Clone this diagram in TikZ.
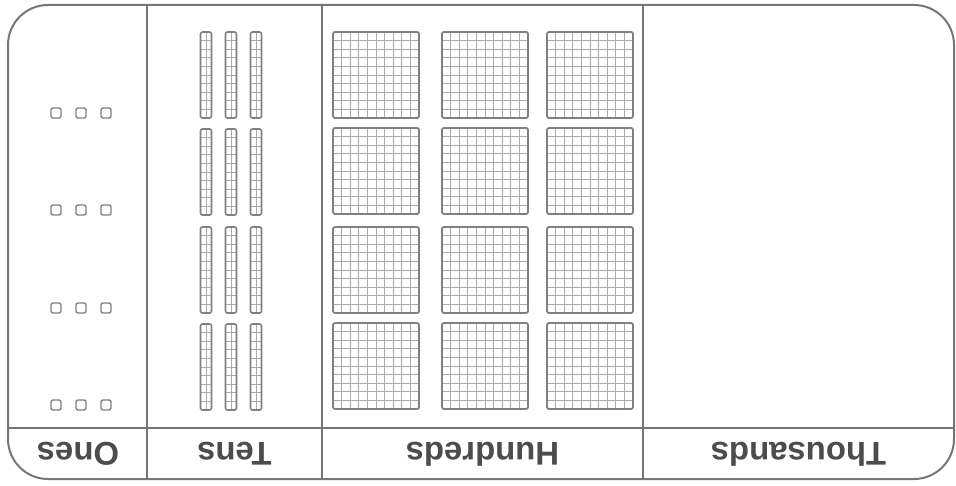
\documentclass[tikz,border=0pt]{standalone}
\usepackage{fontspec}
\setmainfont{Liberation Sans}
\definecolor{linec}{HTML}{767676}
\definecolor{textc}{HTML}{4C4C4C}
\definecolor{blockc}{HTML}{808080}
\definecolor{gridc}{HTML}{AAAAAA}
\tikzset{
  frameline/.style={draw=linec, line width=2bp},
  label/.style={rotate=180, text=textc, font=\fontsize{33}{36}\selectfont\bfseries, inner sep=0pt},
  unitcube/.style={draw=blockc, line width=1.4bp, rounded corners=2bp, fill=white},
  rodbox/.style={draw=blockc, line width=1.6bp, rounded corners=2bp},
  flatbox/.style={draw=blockc, line width=1.8bp, rounded corners=2bp},
  gridline/.style={draw=gridc, line width=0.9bp}
}
\begin{document}
\begin{tikzpicture}[x=1bp,y=-1bp]
\useasboundingbox (0,0) rectangle (956,486);
% frame
\draw[frameline, rounded corners=40bp] (8,5) rectangle (954,479);
\coordinate (d1t) at (147,5); \coordinate (d1b) at (147,479);
\coordinate (d2t) at (322,5); \coordinate (d2b) at (322,479);
\coordinate (d3t) at (643,5); \coordinate (d3b) at (643,479);
\coordinate (hl) at (8,428); \coordinate (hr) at (954,428);
\draw[frameline] (d1t) -- (d1b);
\draw[frameline] (d2t) -- (d2b);
\draw[frameline] (d3t) -- (d3b);
\draw[frameline] (hl) -- (hr);
% labels
\node[label] (ones) at (78,454) {Ones};
\node[label] (tens) at (234.5,454) {Tens};
\node[label] (hund) at (482.5,454) {Hundreds};
\node[label] (thou) at (798.5,454) {Thousands};
% ones
\foreach \yy in {113,210,308,405}{
  \foreach \xx in {56,81,106}{
    \draw[unitcube] (\xx-5,\yy-5) rectangle (\xx+5,\yy+5);
  }
}
% tens
\foreach \yy in {32,129,227,324}{
  \foreach \xx in {206,231,256}{
    \foreach \k in {1,...,9}{
      \draw[gridline] (\xx-5.5,\yy+8.6*\k) -- (\xx+5.5,\yy+8.6*\k);
    }
    \draw[gridline] (\xx,\yy) -- (\xx,\yy+86);
    \draw[rodbox] (\xx-5.5,\yy) rectangle (\xx+5.5,\yy+86);
  }
}
% hundreds
\foreach \yy in {32,128,227,323}{
  \foreach \xx in {333,442,547}{
    \foreach \k in {1,...,9}{
      \draw[gridline] (\xx,\yy+8.6*\k) -- (\xx+86,\yy+8.6*\k);
      \draw[gridline] (\xx+8.6*\k,\yy) -- (\xx+8.6*\k,\yy+86);
    }
    \draw[flatbox] (\xx,\yy) rectangle (\xx+86,\yy+86);
  }
}
\end{tikzpicture}
\end{document}
